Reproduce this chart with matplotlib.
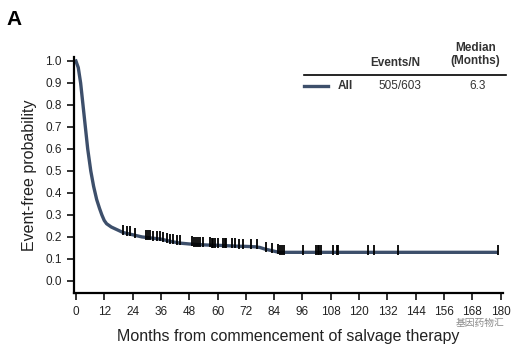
import matplotlib
matplotlib.use('Agg')
import matplotlib.pyplot as plt
import numpy as np

# KM curve (months, probability)
months = [0, 1, 2, 3, 4, 5, 6.3, 7.5, 8.8, 10, 11, 12, 13, 15, 18, 20, 24, 28, 32, 36,
          40, 44, 48, 52, 56, 60, 64, 68, 72, 76, 78, 80, 82, 84, 86, 120, 150, 178]
prob = [1.0, 0.97, 0.9, 0.8, 0.7, 0.6, 0.5, 0.43, 0.37, 0.33, 0.3, 0.275, 0.26, 0.245,
        0.23, 0.22, 0.21, 0.2, 0.195, 0.19, 0.18, 0.172, 0.168, 0.165, 0.163, 0.162,
        0.16, 0.158, 0.157, 0.155, 0.152, 0.145, 0.14, 0.135, 0.13, 0.13, 0.13, 0.13]

# censoring marks (months)
censored = [20, 21.5, 22.9, 25, 29.7, 30.5, 31.6, 32.6, 34.2, 35.6, 36.9, 38.4, 39.8,
            41.1, 42.7, 44.1, 49, 50, 51, 51.7, 52.5, 53.9, 56.8, 57.5, 58.3, 59, 60,
            62.4, 63, 63.8, 66, 67.5, 69, 71, 74.4, 76.6, 80.5, 83, 85.5, 86.5, 87.2, 88,
            96.3, 101.9, 102.5, 103.1, 103.7, 108.9, 110.5, 111, 123.6, 126.4, 136.3, 178.7]

xticks = list(range(0, 181, 12))
yticks = [i / 10 for i in range(11)]

line_color = '#3d4f6b'

plt.rcParams['font.family'] = ['Liberation Sans', 'DejaVu Sans']

fig = plt.figure(figsize=(5.31, 3.52), dpi=100)
ax = fig.add_axes([0.1394, 0.1676, 0.808, 0.6716])

ax.plot(months, prob, color=line_color, lw=2.4, zorder=2)

# censor ticks sit just on top of the curve
cens_y = np.interp(censored, months, prob) + 0.012
ax.plot(censored, cens_y, ls='none', marker='|', color='black', ms=6.5, mew=1.3, zorder=3)

ax.set_xlim(-0.8, 181)
ax.set_ylim(-0.055, 1.02)
ax.set_xticks(xticks)
ax.set_yticks(yticks)
ax.set_yticklabels([f'{v:.1f}' for v in yticks])
ax.tick_params(labelsize=8.5, width=1.3, length=5, pad=4, colors='#222222')
for s in ['top', 'right']:
    ax.spines[s].set_visible(False)
for s in ['left', 'bottom']:
    ax.spines[s].set_linewidth(1.6)

ax.set_xlabel('Months from commencement of salvage therapy', fontsize=11.5,
              color='#222222', labelpad=8)
ax.set_ylabel('Event-free probability', fontsize=11.5, color='#222222', labelpad=6)

fig.text(0.012, 0.93, 'A', fontsize=15, fontweight='bold')

# legend table
fig.text(0.745, 0.82, 'Events/N', fontsize=8.5, fontweight='bold', ha='center', va='center',
         color='#333333')
fig.text(0.895, 0.845, 'Median\n(Months)', fontsize=8.5, fontweight='bold', ha='center',
         va='center', color='#333333', linespacing=1.1)
fig.add_artist(plt.Line2D([0.572, 0.952], [0.787, 0.787], color='black', lw=1.2))
fig.add_artist(plt.Line2D([0.572, 0.618], [0.755, 0.755], color=line_color, lw=2.4))
fig.text(0.636, 0.755, 'All', fontsize=8.5, fontweight='bold', va='center', color='#333333')
fig.text(0.753, 0.755, '505/603', fontsize=8.5, ha='center', va='center', color='#333333')
fig.text(0.9, 0.755, '6.3', fontsize=8.5, ha='center', va='center', color='#333333')

# watermark
fig.text(0.905, 0.083, '基因药物汇', fontsize=7, color='#8a8a8a', ha='center', va='center',
         family=['Noto Sans CJK SC', 'DejaVu Sans'])

fig.savefig('out.png', dpi=100)
